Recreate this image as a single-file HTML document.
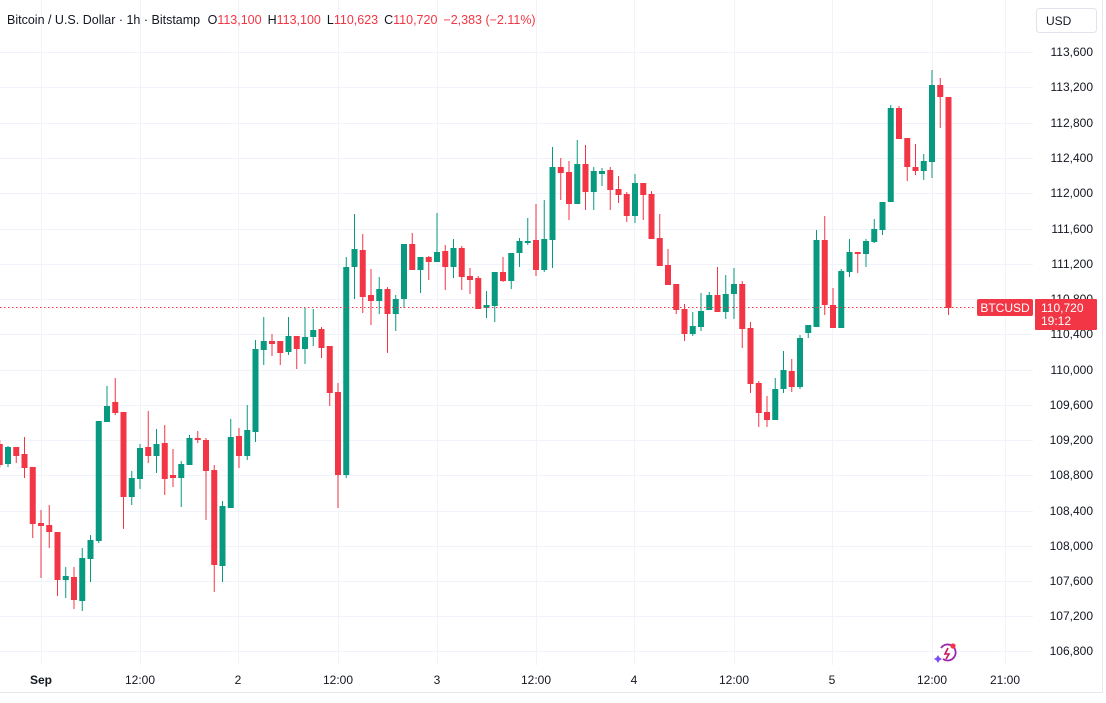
<!DOCTYPE html>
<html><head><meta charset="utf-8"><style>
body{margin:0;background:#fff;width:1106px;height:703px;overflow:hidden;font-family:"Liberation Sans",sans-serif;}
svg{position:absolute;left:0;top:0}
.t{font-size:12px;fill:#131722}
</style></head><body>
<svg id="s" width="1106" height="703" xmlns="http://www.w3.org/2000/svg">
<g id="grid" stroke="#f0f3fa" stroke-width="1"></g>
<line x1="1102.5" y1="0" x2="1102.5" y2="692" stroke="#e6e8ee"/>
<line x1="0" y1="692.5" x2="1103" y2="692.5" stroke="#e6e8ee"/>
<g id="c"></g>
<line x1="0" y1="307.5" x2="976" y2="307.5" stroke="#f23645" stroke-dasharray="1.5,2.5"/>
<g class="t" text-anchor="end">
<text x="1093" y="56">113,600</text><text x="1093" y="91">113,200</text><text x="1093" y="127">112,800</text><text x="1093" y="162">112,400</text><text x="1093" y="197">112,000</text><text x="1093" y="233">111,600</text><text x="1093" y="268">111,200</text><text x="1093" y="303">110,800</text><text x="1093" y="338">110,400</text><text x="1093" y="374">110,000</text><text x="1093" y="409">109,600</text><text x="1093" y="444">109,200</text><text x="1093" y="479">108,800</text><text x="1093" y="515">108,400</text><text x="1093" y="550">108,000</text><text x="1093" y="585">107,600</text><text x="1093" y="620">107,200</text><text x="1093" y="655">106,800</text>
</g>
<g class="t" text-anchor="middle">
<text x="41" y="684" font-weight="bold">Sep</text><text x="140" y="684">12:00</text><text x="238" y="684">2</text><text x="338" y="684">12:00</text><text x="437" y="684">3</text><text x="536" y="684">12:00</text><text x="634" y="684">4</text><text x="734" y="684">12:00</text><text x="832" y="684">5</text><text x="932" y="684">12:00</text><text x="1005" y="684">21:00</text>
</g>
<rect x="977" y="299" width="56" height="17" rx="2" fill="#f23645"/>
<text x="1005" y="312" text-anchor="middle" font-size="12" fill="#fff">BTCUSD</text>
<rect x="1035" y="299" width="62" height="31" rx="1" fill="#f23645"/>
<text x="1041" y="312" font-size="12" fill="#fff">110,720</text>
<text x="1041" y="325" font-size="12" fill="#fff">19:12</text>
<rect x="1036.5" y="8.5" width="60" height="24" rx="3" fill="#fff" stroke="#e0e3eb"/>
<text x="1046" y="25" font-size="12" fill="#131722">USD</text>
<text x="7" y="24" font-size="12.5" fill="#131722">Bitcoin / U.S. Dollar · 1h · Bitstamp <tspan dx="4">O</tspan><tspan fill="#f23645">113,100</tspan><tspan dx="6">H</tspan><tspan fill="#f23645">113,100</tspan><tspan dx="6">L</tspan><tspan fill="#f23645">110,623</tspan><tspan dx="6">C</tspan><tspan fill="#f23645">110,720</tspan><tspan dx="6" fill="#f23645">−2,383 (−2.11%)</tspan></text>
<g transform="translate(947,653)" fill="none" stroke="#9c27b0" stroke-width="1.8">
<path d="M-6,-5 A8,8 0 1 1 -4,6"/>
<path d="M1,-5 L-2,1 L2,1 L-1,6" stroke="#c2185b" stroke-width="1.6"/>
<path d="M-9,2 l1.5,2.5 l2.5,1.5 l-2.5,1.5 l-1.5,2.5 l-1.5,-2.5 l-2.5,-1.5 l2.5,-1.5z" fill="#7c4dff" stroke="none"/>
<circle cx="6" cy="-7" r="2.6" fill="#f23645" stroke="none"/>
</g>
</svg>
<script>
var g=document.getElementById('grid'),ns='http://www.w3.org/2000/svg';
function L(x1,y1,x2,y2){var l=document.createElementNS(ns,'line');l.setAttribute('x1',x1);l.setAttribute('y1',y1);l.setAttribute('x2',x2);l.setAttribute('y2',y2);g.appendChild(l);}
[52,87,123,158,193,229,264,299,334,370,405,440,475,511,546,581,616,651].forEach(function(y){L(0,y+.5,1033,y+.5);});
[41,140,238,338,437,536,634,734,832,932,1005].forEach(function(x){L(x+.5,0,x+.5,665);});
var d=[[444,465,440,468],[464,447,446,467],[447,456,447,463],[454,468,437,478],[467,524,467,538],[523,526,510,578],[525,532,505,548],[532,580,532,596],[580,576,567,598],[577,600,567,609],[601,558,548,611],[559,540,535,582],[541,421,421,543],[422,406,386,422],[402,413,378,415],[412,497,412,529],[497,478,471,505],[479,448,444,489],[447,456,411,463],[456,444,429,473],[443,479,425,495],[475,478,449,487],[478,464,461,507],[465,438,435,465],[438,440,431,443],[440,471,438,520],[470,565,465,592],[566,506,501,582],[508,437,419,508],[436,456,428,468],[456,430,405,460],[432,349,340,442],[350,341,317,365],[341,344,334,356],[341,353,341,365],[352,336,317,355],[336,349,336,369],[349,337,307,364],[337,330,309,346],[329,348,327,358],[346,393,346,406],[392,475,383,508],[475,267,257,478],[267,249,214,299],[250,297,234,313],[295,301,269,325],[301,289,277,314],[289,314,287,353],[314,299,295,331],[299,244,244,308],[244,270,233,270],[270,257,257,293],[257,262,256,280],[262,252,213,262],[251,267,245,290],[267,248,239,278],[248,277,246,290],[276,280,268,294],[278,309,276,309],[308,305,291,318],[306,272,272,322],[272,281,257,282],[281,253,253,289],[253,241,238,267],[242,241,218,245],[240,270,204,276],[270,239,200,272],[240,167,147,268],[167,173,158,200],[172,204,161,220],[204,164,140,204],[164,192,145,210],[192,171,167,210],[174,171,168,186],[170,190,167,210],[189,195,176,203],[194,216,192,222],[216,183,174,223],[183,195,183,220],[194,239,191,239],[238,266,214,266],[265,285,249,285],[284,310,284,314],[309,334,304,341],[334,326,312,336],[327,311,293,331],[310,295,292,310],[295,312,267,312],[312,294,275,319],[294,284,268,319],[284,329,281,348],[328,384,322,393],[383,413,381,427],[412,420,396,427],[420,389,378,420],[389,370,351,393],[371,387,359,392],[387,338,335,389],[333,325,325,338],[327,240,230,327],[240,305,216,315],[305,328,288,328],[328,271,269,328],[272,252,239,277],[252,254,252,273],[254,241,239,267],[242,229,219,243],[230,202,202,235],[202,108,105,202],[108,139,106,139],[138,167,138,181],[167,171,144,175],[171,161,154,180],[162,85,70,178],[85,97,78,128],[97,308,97,315]];
var c=document.getElementById('c');
d.forEach(function(k,i){var x=41+(i-5)*8.25,o=k[0],cl=k[1],col=cl<o?'#089981':'#f23645';
var w=document.createElementNS(ns,'rect');w.setAttribute('x',x-0.5);w.setAttribute('y',k[2]);w.setAttribute('width',1);w.setAttribute('height',Math.max(1,k[3]-k[2]));w.setAttribute('fill',col);c.appendChild(w);
var b=document.createElementNS(ns,'rect');var t=Math.min(o,cl),h=Math.max(2,Math.abs(o-cl));b.setAttribute('x',x-3);b.setAttribute('y',t);b.setAttribute('width',6);b.setAttribute('height',h);b.setAttribute('fill',col);c.appendChild(b);});
</script>
</body></html>
